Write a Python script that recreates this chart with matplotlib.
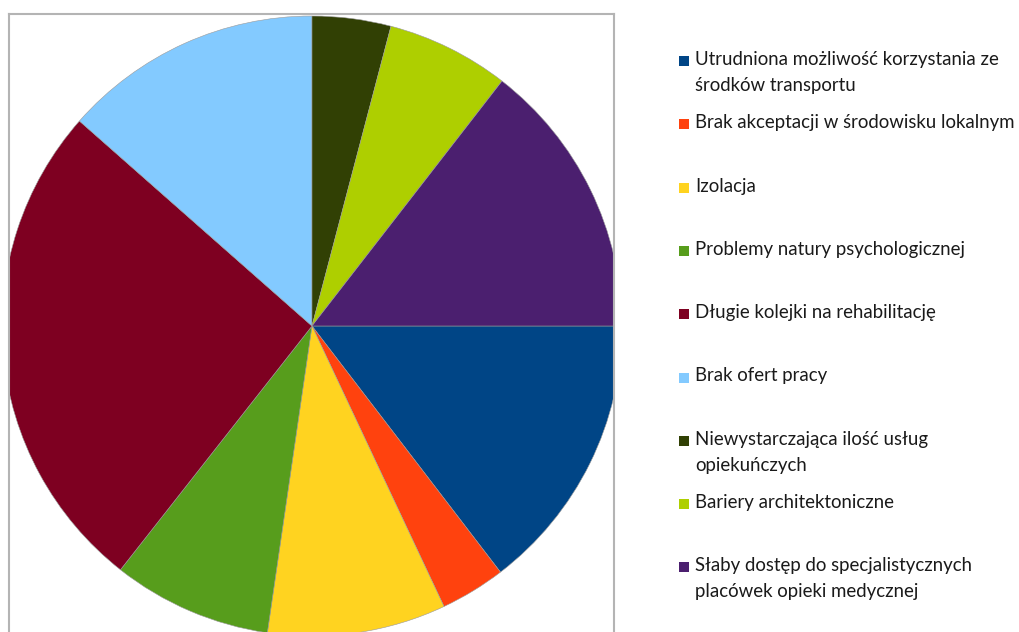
import matplotlib
matplotlib.use("Agg")
import matplotlib.pyplot as plt
from matplotlib.patches import Rectangle

labels = [
    "Utrudniona możliwość korzystania ze\nśrodków transportu",
    "Brak akceptacji w środowisku lokalnym",
    "Izolacja",
    "Problemy natury psychologicznej",
    "Długie kolejki na rehabilitację",
    "Brak ofert pracy",
    "Niewystarczająca ilość usług\nopiekuńczych",
    "Bariery architektoniczne",
    "Słaby dostęp do specjalistycznych\nplacówek opieki medycznej",
]
values = [14.6, 3.4, 9.3, 8.3, 25.9, 13.5, 4.1, 6.4, 14.5]
colors = ["#004586", "#ff420e", "#ffd320", "#579d1c", "#7e0021",
          "#83caff", "#314004", "#aecf00", "#4b1f6f"]

W, H = 1019, 632
fig = plt.figure(figsize=(W / 100, H / 100), dpi=100)
fig.patch.set_facecolor("white")

# plot area in pixel units, pie is larger than the frame and gets clipped
left, right, top, bottom = 9, 614, 14, 642
ax = fig.add_axes([left / W, 1 - bottom / H, (right - left) / W, (bottom - top) / H])
wedges, _ = ax.pie(values, colors=colors, startangle=0, counterclock=False,
                   center=(312, H - 326), radius=310, frame=True,
                   wedgeprops=dict(linewidth=0.4, edgecolor="#9a9a9a"))
for w in wedges:
    w.set_clip_on(True)
    w.set_clip_path(ax.patch)
ax.set_xlim(left, right)
ax.set_ylim(H - bottom, H - top)
ax.set_aspect("auto")
ax.set_xticks([])
ax.set_yticks([])
for s in ax.spines.values():
    s.set_color("#b4b4b4")
    s.set_linewidth(1.5)
    s.set_zorder(5)

# legend drawn by hand, first lines equally spaced
for i, (lab, c) in enumerate(zip(labels, colors)):
    y = 61 + i * 63.3
    fig.patches.append(Rectangle((679 / W, 1 - (y + 5) / H), 10 / W, 10 / H,
                                 facecolor=c, edgecolor="none",
                                 transform=fig.transFigure, figure=fig))
    fig.text(695 / W, 1 - (y - 10) / H, lab, ha="left", va="top",
             fontsize=13.4, family="Lato", color="#1a1a1a", linespacing=1.63)

fig.savefig("out.png", dpi=100)
